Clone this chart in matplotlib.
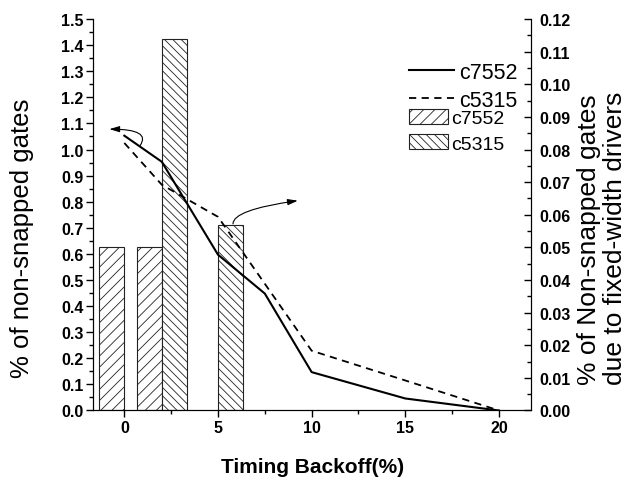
import numpy as np
import matplotlib
matplotlib.use('Agg')
import matplotlib.pyplot as plt
from matplotlib.ticker import MultipleLocator

plt.rcParams['font.family'] = ['Liberation Sans', 'DejaVu Sans']
plt.rcParams['hatch.linewidth'] = 0.6

# lines (left axis)
x_c7552 = [0, 2, 5, 7.5, 10, 15, 20]
y_c7552 = [1.053, 0.953, 0.597, 0.448, 0.147, 0.046, 0.0]
x_c5315 = [0, 2, 5, 10, 15, 20]
y_c5315 = [1.025, 0.865, 0.742, 0.229, 0.115, 0.0]

# bars (right axis)
bx_c7552 = [0, 2]
bh_c7552 = [0.05, 0.05]
bx_c5315 = [2, 5]
bh_c5315 = [0.114, 0.057]
bw = 1.33

fig = plt.figure(figsize=(6.28, 4.81), dpi=100)
ax1 = fig.add_axes([0.1486, 0.1445, 0.845 - 0.1486, 0.9584 - 0.1445])
ax2 = ax1.twinx()
ax1.set_zorder(ax2.get_zorder() + 1)
ax1.patch.set_visible(False)

b1 = ax2.bar(bx_c7552, bh_c7552, width=-bw, align='edge', color='white',
             edgecolor='#222222', linewidth=0.8, hatch='///', label='c7552')
b2 = ax2.bar(bx_c5315, bh_c5315, width=bw, align='edge', color='white',
             edgecolor='#222222', linewidth=0.8, hatch='\\\\\\\\', label='c5315')

l1, = ax1.plot(x_c7552, y_c7552, color='black', lw=1.5, label='c7552')
l2, = ax1.plot(x_c5315, y_c5315, color='black', lw=1.3, dashes=(4, 3), label='c5315')

ax1.set_xlim(-1.655, 21.69)
ax1.set_ylim(0, 1.5)
ax2.set_ylim(0, 0.12)

for a in (ax1, ax2):
    a.spines['top'].set_visible(False)

ax1.xaxis.set_major_locator(MultipleLocator(5))
ax1.xaxis.set_minor_locator(MultipleLocator(2.5))
ax1.yaxis.set_major_locator(MultipleLocator(0.1))
ax1.yaxis.set_minor_locator(MultipleLocator(0.05))
ax2.yaxis.set_major_locator(MultipleLocator(0.01))
ax2.yaxis.set_minor_locator(MultipleLocator(0.005))
ax1.yaxis.set_major_formatter(matplotlib.ticker.FormatStrFormatter('%.1f'))
ax2.yaxis.set_major_formatter(matplotlib.ticker.FormatStrFormatter('%.2f'))

ax1.tick_params(which='major', direction='out', length=5, width=1, labelsize=11.5, pad=2)
ax1.tick_params(which='minor', direction='out', length=3, width=1)
ax2.tick_params(which='major', direction='in', length=5, width=1, labelsize=11.5, pad=6)
ax2.tick_params(which='minor', direction='in', length=3, width=1)
for a in (ax1, ax2):
    for t in a.get_xticklabels() + a.get_yticklabels():
        t.set_fontweight('bold')

# arrows
ax1.annotate('', xy=(-0.8, 1.078), xytext=(0.84, 1.015),
             arrowprops=dict(arrowstyle='-|>,head_length=0.6,head_width=0.18',
                             connectionstyle='angle3,angleA=55,angleB=0',
                             color='black', lw=0.8, shrinkA=0, shrinkB=0))
ax1.annotate('', xy=(9.26, 0.804), xytext=(5.8, 0.715),
             arrowprops=dict(arrowstyle='-|>,head_length=0.6,head_width=0.18',
                             connectionstyle='angle3,angleA=90,angleB=8',
                             color='black', lw=0.8, shrinkA=0, shrinkB=0))

leg1 = fig.legend([l1, l2], ['c7552', 'c5315'], loc='upper left',
                  bbox_to_anchor=(0.651, 0.870), frameon=False, fontsize=15.5,
                  borderpad=0, borderaxespad=0, handlelength=2.1,
                  handletextpad=0.25, labelspacing=0.34)
leg2 = fig.legend([b1, b2], ['c7552', 'c5315'], loc='upper left',
                  bbox_to_anchor=(0.652, 0.771), frameon=False, fontsize=14,
                  borderpad=0, borderaxespad=0, handlelength=1.96, handleheight=0.82,
                  handletextpad=0.2, labelspacing=0.35)

fig.text(0.035, 0.214, '% of non-snapped gates', rotation=90, fontsize=18.5,
         ha='center', va='bottom')
fig.text(0.958, 0.2, '% of Non-snapped gates\ndue to fixed-width drivers',
         rotation=90, fontsize=19, ha='center', va='bottom', multialignment='left',
         linespacing=1.1)
fig.text(0.4976, 0.029, 'Timing Backoff(%)', fontsize=15, fontweight='bold',
         ha='center', va='center')

fig.savefig('out.png', dpi=100)
